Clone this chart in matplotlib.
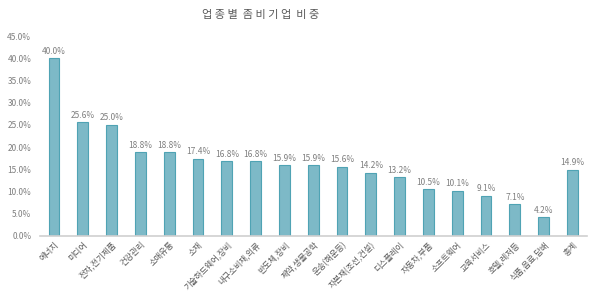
import matplotlib.pyplot as plt
from matplotlib.ticker import FuncFormatter

categories = ['에너지', '미디어', '전자,전기제품', '건강관리', '소매유통', '소재',
              '기술하드웨어,장비', '내구소비재,의류', '반도체,장비', '제약,생물공학',
              '운송(해운등)', '자본재(조선,건설)', '디스플레이', '자동차,부품',
              '소프트웨어', '교육서비스', '호텔,레저등', '식품,음료,담배', '총계']
values = [40.0, 25.6, 25.0, 18.8, 18.8, 17.4, 16.8, 16.8, 15.9, 15.9,
          15.6, 14.2, 13.2, 10.5, 10.1, 9.1, 7.1, 4.2, 14.9]

plt.rcParams['font.family'] = ['Noto Sans CJK KR', 'DejaVu Sans']
txt = '#7f7f7f'

fig = plt.figure(figsize=(6, 3.06), dpi=100)
ax = fig.add_axes([0.066, 0.229, 0.912, 0.653])

x = range(len(categories))
ax.bar(x, values, width=0.37, color='#7db9c7', edgecolor='#4fa3b4', linewidth=0.8)
for i, v in zip(x, values):
    ax.text(i, v + 0.6, f'{v:.1f}%', ha='center', va='bottom', fontsize=6, color=txt)

ax.set_xlim(-0.5, len(categories) - 0.5)
ax.set_ylim(0, 45)
ax.set_yticks([0, 5, 10, 15, 20, 25, 30, 35, 40, 45])
ax.yaxis.set_major_formatter(FuncFormatter(lambda v, p: f'{v:.1f}%'))
ax.set_xticks(list(x))
ax.set_xticklabels(categories, rotation=45, ha='right', rotation_mode='anchor',
                   fontsize=6, color='#595959')
ax.tick_params(axis='y', labelsize=6, labelcolor=txt, length=0, pad=6)
ax.tick_params(axis='x', length=0, pad=3)
for s in ['top', 'right', 'left']:
    ax.spines[s].set_visible(False)
ax.spines['bottom'].set_color('#d0d0d0')
ax.spines['bottom'].set_linewidth(1.2)

fig.text(0.435, 0.95, '업 종 별  좀 비 기 업  비 중', ha='center', va='center',
         fontsize=8, color='#595959')

fig.savefig('out.png', dpi=100)
